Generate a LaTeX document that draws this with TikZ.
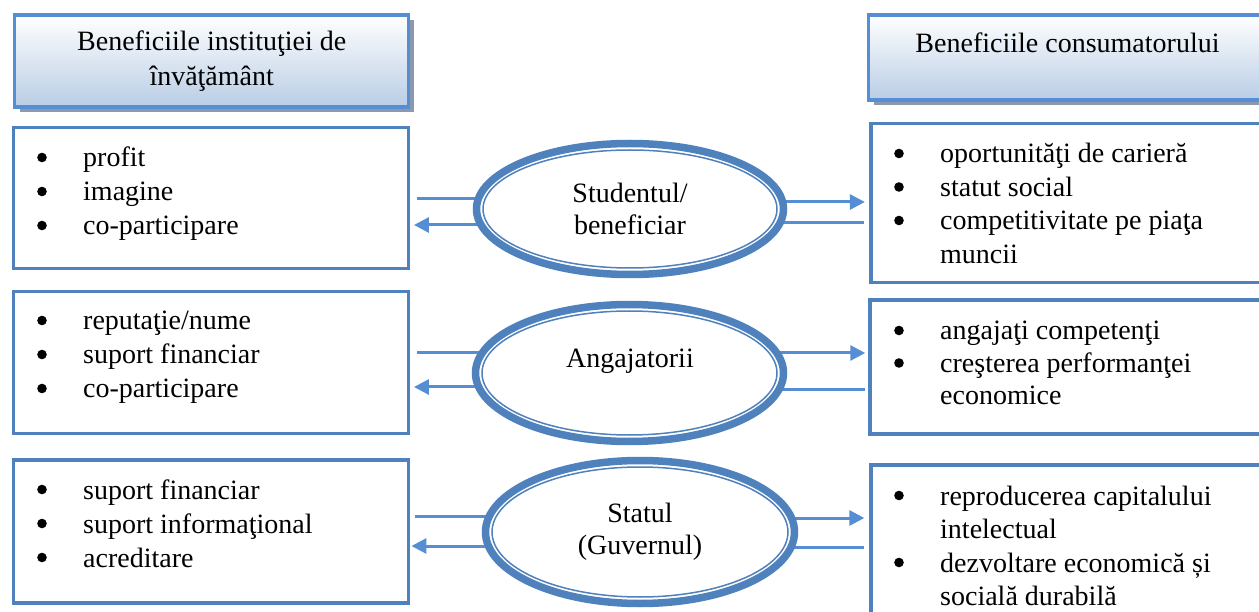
\documentclass[tikz,border=0pt]{standalone}
\usepackage{fontspec}
\setmainfont{Liberation Serif}
\usetikzlibrary{arrows.meta,shapes.geometric,calc,shadows}
\definecolor{boxblue}{RGB}{79,129,189}
\definecolor{lineblue}{RGB}{85,142,213}
\definecolor{hdrbottom}{RGB}{185,205,229}
\definecolor{shadowgray}{RGB}{140,152,172}
\pgfdeclarelayer{background}
\pgfsetlayers{background,main}
\begin{document}
\begin{tikzpicture}[x=1pt,y=-1pt,
  font=\fontsize{28pt}{34pt}\selectfont,
  hdr/.style={draw=lineblue,line width=3.5pt,top color=white,bottom color=hdrbottom,
    drop shadow={shadow xshift=5pt,shadow yshift=-5pt,fill=shadowgray,opacity=1},inner sep=0pt},
  listbox/.style={draw=boxblue,line width=3.5pt,fill=white,inner sep=0pt},
  listtext/.style={anchor=base west,inner sep=0pt},
  bulletdot/.style={fill=black},
  ell/.style={ellipse,draw=boxblue,line width=7.5pt,fill=white,inner sep=0pt,align=center},
  ellin/.style={draw=boxblue,line width=1.5pt},
  conn/.style={draw=lineblue,line width=3pt},
  arr/.style={-{Triangle[length=15pt,width=15pt]}}]
\useasboundingbox (0,0) rectangle (1259,612);
\begin{pgfonlayer}{background}
\fill[white] (0,0) rectangle (1259,612);
\end{pgfonlayer}
\clip (0,0) rectangle (1259,612);

% headers
\node[hdr,minimum width=394pt,minimum height=92pt,align=center,
  font=\fontsize{28pt}{35pt}\selectfont] (HL) at (211.7,60.9) {Beneficiile instituţiei de\\învăţământ};
\node[hdr,minimum width=398pt,minimum height=85pt] (HR) at (1067.5,57.5) {};
\node[anchor=base,inner sep=0pt] (HRt) at (1067.5,53) {Beneficiile consumatorului};

% left boxes
\node[listbox,minimum width=395pt,minimum height=141pt] (LB1) at (211.2,198.1) {};
\node[listbox,minimum width=395pt,minimum height=142pt] (LB2) at (211.2,362.5) {};
\node[listbox,minimum width=395pt,minimum height=143pt] (LB3) at (211.2,531.7) {};

% right boxes
\node[listbox,minimum width=409pt,minimum height=159pt] (RB1) at (1075.6,202.8) {};
\node[listbox,minimum width=410pt,minimum height=134pt] (RB2) at (1075,367.2) {};
\node[listbox,minimum width=409pt,minimum height=165pt] (RB3) at (1075.6,547.5) {};

% lists
\node[listtext] (LL1) at (83,167) {\begin{tabular}[t]{@{}l@{}}profit\\imagine\\co-participare\end{tabular}};
\node[listtext] (LL2) at (83,330) {\begin{tabular}[t]{@{}l@{}}reputaţie/nume\\suport financiar\\co-participare\end{tabular}};
\node[listtext] (LL3) at (83,499) {\begin{tabular}[t]{@{}l@{}}suport financiar\\suport informaţional\\acreditare\end{tabular}};
\node[listtext,font=\fontsize{28pt}{33.5pt}\selectfont] (RL1) at (940,163) {\begin{tabular}[t]{@{}l@{}}oportunităţi de carieră\\statut social\\competitivitate pe piaţa\\muncii\end{tabular}};
\node[listtext,font=\fontsize{28pt}{32.5pt}\selectfont] (RL2) at (940,340) {\begin{tabular}[t]{@{}l@{}}angajaţi competenţi\\creşterea performanţei\\economice\end{tabular}};
\node[listtext,font=\fontsize{28pt}{33.5pt}\selectfont] (RL3) at (940,505) {\begin{tabular}[t]{@{}l@{}}reproducerea capitalului\\intelectual\\dezvoltare economică și\\socială durabilă\end{tabular}};

% bullets
\foreach \yy in {157.5,191.5,225.5,320.5,354.5,388.5,489.5,523.5,557.5}
  \fill[bulletdot] (42,\yy) circle (4.8pt);
\foreach \yy in {153.5,187,220.5,330.5,363,495.5,562.5}
  \fill[bulletdot] (899,\yy) circle (4.8pt);

% ellipses
\node[ell,minimum width=307pt,minimum height=131pt,font=\fontsize{28pt}{32pt}\selectfont] (E1) at (630,209) {Studentul/\\beneficiar};
\node[ell,minimum width=308pt,minimum height=137pt] (E2) at (629.5,373) {};
\node[anchor=base,inner sep=0pt] (E2t) at (630,368) {Angajatorii};
\node[ell,minimum width=309pt,minimum height=143pt,font=\fontsize{28pt}{32pt}\selectfont] (E3) at (640,532) {Statul\\(Guvernul)};
\draw[ellin] (E1.center) ellipse [x radius=147pt, y radius=59pt];
\draw[ellin] (E2.center) ellipse [x radius=147.5pt, y radius=62pt];
\draw[ellin] (E3.center) ellipse [x radius=148pt, y radius=65pt];

% connectors
\begin{pgfonlayer}{background}
\draw[conn] ($(LB1.east |- 0,199)+(6.5,0)$) -- (E1.center |- 0,199);
\draw[conn,arr] (E1.center |- 0,225) -- ($(LB1.east |- 0,225)+(3.5,0)$);
\draw[conn,arr] (E1.center |- 0,202) -- ($(RB1.west |- 0,202)+(-4.5,0)$);
\draw[conn] ($(RB1.west |- 0,223)+(-5.5,0)$) -- (E1.center |- 0,223);

\draw[conn] ($(LB2.east |- 0,353)+(6.5,0)$) -- (E2.center |- 0,353);
\draw[conn,arr] (E2.center |- 0,387) -- ($(LB2.east |- 0,387)+(3.5,0)$);
\draw[conn,arr] (E2.center |- 0,353) -- ($(RB2.west |- 0,353)+(-3,0)$);
\draw[conn] ($(RB2.west |- 0,390)+(-3,0)$) -- (E2.center |- 0,390);

\draw[conn] ($(LB3.east |- 0,516)+(4.5,0)$) -- (E3.center |- 0,516);
\draw[conn,arr] (E3.center |- 0,546) -- ($(LB3.east |- 0,546)+(1,0)$);
\draw[conn,arr] (E3.center |- 0,518) -- ($(RB3.west |- 0,518)+(-5,0)$);
\draw[conn] ($(RB3.west |- 0,547)+(-5,0)$) -- (E3.center |- 0,547);
\end{pgfonlayer}
\end{tikzpicture}
\end{document}
